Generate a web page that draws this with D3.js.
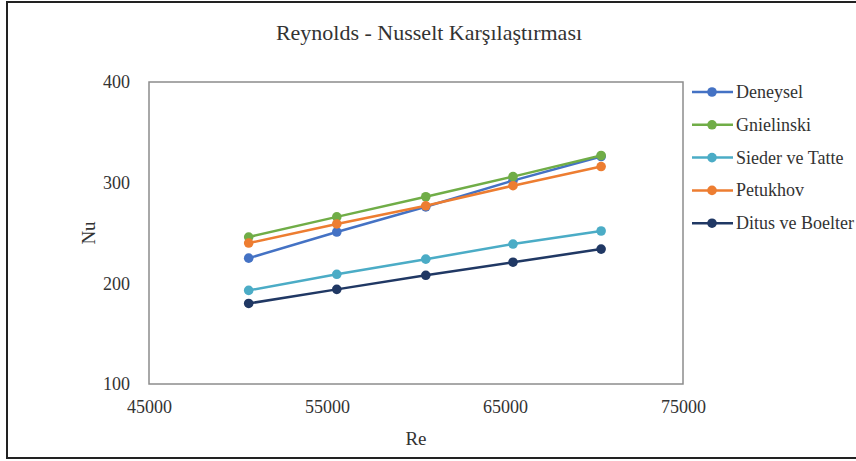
<!DOCTYPE html>
<html>
<head>
<meta charset="utf-8">
<script src="https://cdn.jsdelivr.net/npm/d3@7"></script>
<style>
  html, body { margin: 0; padding: 0; background: #fff; }
  svg text { font-family: "Liberation Serif", "Tinos", "Times New Roman", "DejaVu Serif", serif !important; }
</style>
</head>
<body>
<svg id="chart" width="856" height="461"></svg>
<script>
// Reynolds numbers tested
const reynolds = [50600, 55550, 60550, 65450, 70400];

// Nusselt numbers: measured and from correlations
const deneysel = [225, 251, 276, 302, 326];
const gnielinski = [246, 266, 286, 306, 327];
const siederTatte = [193, 209, 224, 239, 252];
const petukhov = [240, 259, 277, 297, 316];
const dittusBoelter = [180, 194, 208, 221, 234];

const seriesNames = ["Deneysel", "Gnielinski", "Sieder ve Tatte", "Petukhov", "Ditus ve Boelter"];
const seriesValues = [deneysel, gnielinski, siederTatte, petukhov, dittusBoelter];
const seriesColors = ["#4472C4", "#70AD47", "#4BACC6", "#ED7D31", "#203864"];

const xTicks = [45000, 55000, 65000, 75000];
const yTicks = [100, 200, 300, 400];

const svg = d3.select("#chart");
const plot = { left: 149, right: 683, top: 82, bottom: 384 };

// outer chart frame
svg.append("rect")
  .attr("x", 7).attr("y", 2).attr("width", 852).attr("height", 456)
  .attr("fill", "#fff").attr("stroke", "#222").attr("stroke-width", 2);

const x = d3.scaleLinear().domain([45000, 75000]).range([plot.left, plot.right]);
const y = d3.scaleLinear().domain([100, 400]).range([plot.bottom, plot.top]);

// plot area frame
svg.append("rect")
  .attr("x", plot.left).attr("y", plot.top)
  .attr("width", plot.right - plot.left).attr("height", plot.bottom - plot.top)
  .attr("fill", "none").attr("stroke", "#8c8c8c").attr("stroke-width", 1.5);

// axes (labels only, lines come from the frame)
const xAxis = svg.append("g")
  .attr("transform", `translate(0,${plot.bottom})`)
  .call(d3.axisBottom(x).tickValues(xTicks).tickFormat(d3.format("d")).tickSize(0).tickPadding(16));
const yAxis = svg.append("g")
  .attr("transform", `translate(${plot.left},0)`)
  .call(d3.axisLeft(y).tickValues(yTicks).tickFormat(d3.format("d")).tickSize(0).tickPadding(19));
[xAxis, yAxis].forEach(g => {
  g.select(".domain").remove();
  g.selectAll("text").attr("font-size", 18).attr("fill", "#333");
});

// title and axis titles
svg.append("text")
  .attr("x", 429).attr("y", 40).attr("text-anchor", "middle")
  .attr("font-size", 22).attr("fill", "#333")
  .text("Reynolds - Nusselt Karşılaştırması");
svg.append("text")
  .attr("x", (plot.left + plot.right) / 2).attr("y", 445).attr("text-anchor", "middle")
  .attr("font-size", 19).attr("fill", "#333")
  .text("Re");
svg.append("text")
  .attr("transform", `translate(95,${(plot.top + plot.bottom) / 2}) rotate(-90)`)
  .attr("text-anchor", "middle")
  .attr("font-size", 19).attr("fill", "#333")
  .text("Nu");

// series lines and markers
const line = d3.line().x((d, i) => x(reynolds[i])).y(d => y(d));
seriesValues.forEach((vals, s) => {
  const g = svg.append("g");
  g.append("path")
    .attr("d", line(vals))
    .attr("fill", "none").attr("stroke", seriesColors[s]).attr("stroke-width", 2.5);
  g.selectAll("circle").data(vals).join("circle")
    .attr("cx", (d, i) => x(reynolds[i])).attr("cy", d => y(d))
    .attr("r", 4.8).attr("fill", seriesColors[s]);
});

// legend
const legend = svg.append("g");
seriesNames.forEach((name, s) => {
  const ly = 92 + s * 32.8;
  legend.append("line")
    .attr("x1", 692).attr("x2", 733).attr("y1", ly).attr("y2", ly)
    .attr("stroke", seriesColors[s]).attr("stroke-width", 2.5);
  legend.append("circle")
    .attr("cx", 712).attr("cy", ly).attr("r", 4.8).attr("fill", seriesColors[s]);
  legend.append("text")
    .attr("x", 736).attr("y", ly + 6)
    .attr("font-size", 18).attr("fill", "#333")
    .text(name);
});
</script>
</body>
</html>
